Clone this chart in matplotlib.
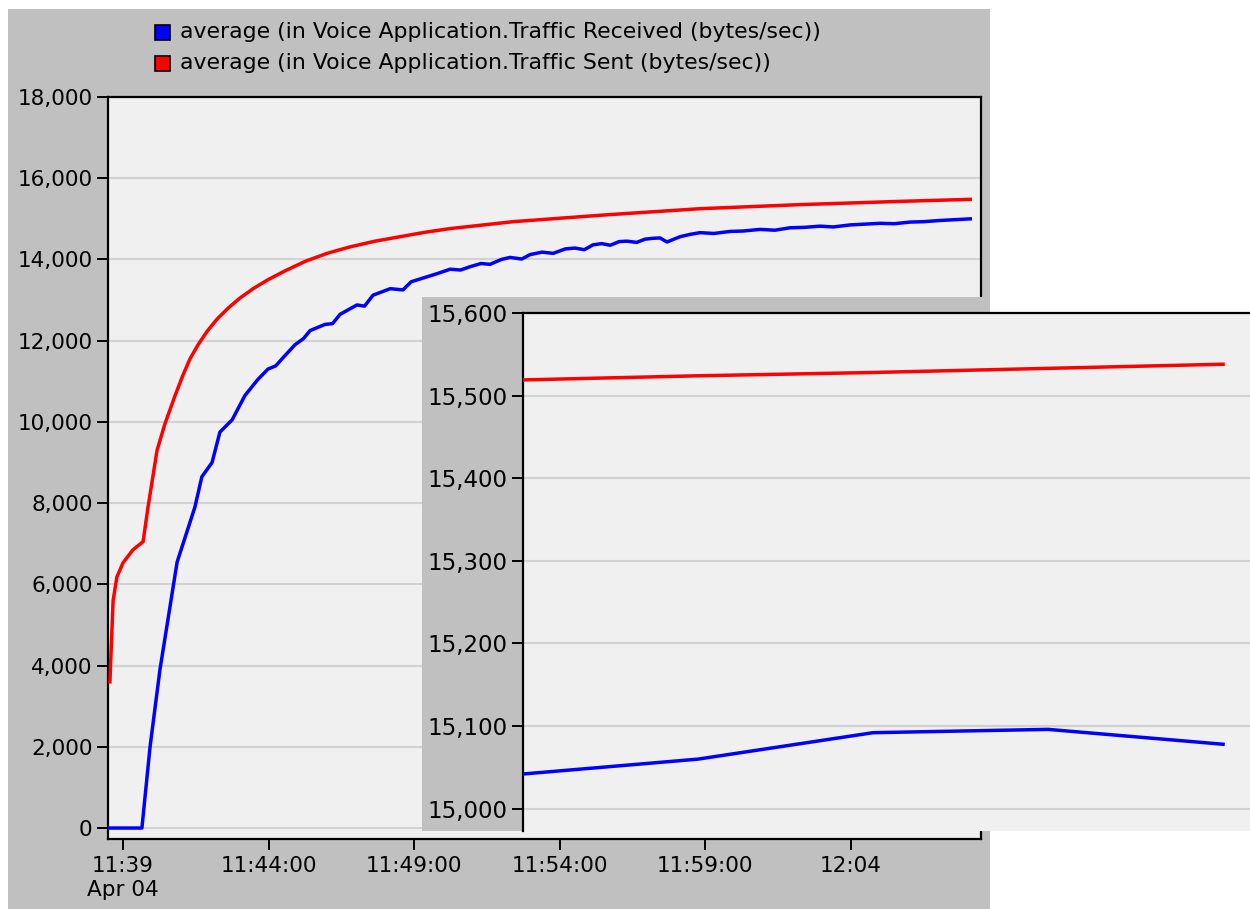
import matplotlib
matplotlib.use("Agg")
import matplotlib.pyplot as plt
from matplotlib.patches import Rectangle
from matplotlib.ticker import FuncFormatter

W, H = 1250, 909

# main chart: minutes after 11:39
sent_t = [-0.45, -0.34, -0.21, 0.0, 0.34, 0.69, 0.86, 1.17, 1.44, 1.79, 2.06, 2.30, 2.58,
          2.89, 3.23, 3.61, 4.02, 4.47, 4.98, 5.57, 6.25, 7.01, 7.80, 8.66, 9.52, 10.38,
          11.24, 13.40, 16.63, 19.83, 23.26, 26.70, 29.11]
sent = [3600, 5600, 6180, 6530, 6850, 7050, 7900, 9300, 9950, 10650, 11150, 11550, 11900,
        12230, 12530, 12800, 13050, 13280, 13500, 13720, 13950, 14150, 14310, 14450, 14560,
        14670, 14760, 14930, 15100, 15250, 15350, 15430, 15480]

recv_t = [-0.52, 0.65, 0.93, 1.27, 1.86, 2.47, 2.71, 3.06, 3.33, 3.75, 4.19, 4.64, 4.98,
          5.25, 5.46, 5.91, 6.2, 6.43, 6.94, 7.2, 7.46, 8.04, 8.3, 8.59, 9.18, 9.62, 9.9,
          10.21, 10.79, 11.24, 11.6, 11.92, 12.3, 12.61, 13.0, 13.3, 13.7, 13.99, 14.4,
          14.78, 15.2, 15.53, 15.85, 16.15, 16.45, 16.74, 17.05, 17.32, 17.65, 17.94, 18.2,
          18.45, 18.69, 19.14, 19.5, 19.83, 20.3, 20.86, 21.3, 21.89, 22.4, 22.92, 23.4,
          23.95, 24.4, 24.98, 25.5, 26.01, 26.5, 27.04, 27.5, 28.08, 28.6, 29.11]
recv = [0, 0, 2000, 3900, 6550, 7900, 8650, 9000, 9750, 10050, 10650, 11050, 11300,
        11380, 11550, 11900, 12050, 12250, 12400, 12420, 12650, 12880, 12850, 13120, 13280,
        13250, 13450, 13520, 13650, 13760, 13740, 13820, 13900, 13880, 14000, 14050, 14010,
        14120, 14180, 14150, 14260, 14280, 14240, 14360, 14390, 14350, 14440, 14450, 14420,
        14500, 14520, 14530, 14430, 14560, 14620, 14660, 14640, 14690, 14700, 14740, 14720,
        14780, 14790, 14820, 14800, 14850, 14870, 14890, 14880, 14920, 14930, 14960, 14980, 15000]

x_ticks = [0, 5, 10, 15, 20, 25]
x_labels = ["11:39\nApr 04", "11:44:00", "11:49:00", "11:54:00", "11:59:00", "12:04"]
y_ticks = list(range(0, 18001, 2000))

# zoomed inset
zoom_idx = [0, 1, 2, 3, 4]
zoom_sent = [15519, 15524, 15528, 15533, 15538]
zoom_recv = [15042, 15060, 15092, 15096, 15078]
zoom_ticks = [15000, 15100, 15200, 15300, 15400, 15500, 15600]

legend_labels = ["average (in Voice Application.Traffic Received (bytes/sec))",
                 "average (in Voice Application.Traffic Sent (bytes/sec))"]

PANEL = "#c0c0c0"
PLOT_BG = "#f0f0f0"
GRID = "#d2d2d2"
BLUE = "#0000ff"
RED = "#ff0000"

plt.rcParams["font.family"] = "DejaVu Sans"


def box(x0, y0, x1, y1):
    # pixel box (top-left origin) -> figure rect
    return [x0 / W, 1 - y1 / H, (x1 - x0) / W, (y1 - y0) / H]


def commas(v, _):
    return f"{int(round(v)):,}"


fig = plt.figure(figsize=(W / 100, H / 100), dpi=100, facecolor="white")

# main grey panel
fig.add_artist(Rectangle((8 / W, 0), 982 / W, 900 / H, transform=fig.transFigure,
                         facecolor=PANEL, edgecolor="none", zorder=-1))

ax = fig.add_axes(box(108, 97, 981, 839), zorder=0)
ax.set_facecolor(PLOT_BG)
ax.plot(recv_t, recv, color=BLUE, lw=2.5, solid_joinstyle="round", zorder=3)
ax.plot(sent_t, sent, color=RED, lw=2.5, solid_joinstyle="round", zorder=3)
ax.set_xlim(-0.515, 29.48)
ax.set_ylim(-270, 18000)
ax.set_xticks(x_ticks)
ax.set_xticklabels(x_labels, linespacing=1.3)
ax.set_yticks(y_ticks)
ax.yaxis.set_major_formatter(FuncFormatter(commas))
ax.grid(axis="y", color=GRID, lw=1.5)
ax.set_axisbelow(True)
for s in ax.spines.values():
    s.set_color("black")
    s.set_linewidth(1.6)
ax.tick_params(axis="y", length=8, width=1.4, labelsize=15.5, pad=3)
ax.tick_params(axis="x", length=8, width=1.4, labelsize=15.5, pad=4)

# legend drawn by hand above the plot
for i, (lab, col) in enumerate(zip(legend_labels, [BLUE, RED])):
    yc = 32 + 31 * i
    fig.add_artist(Rectangle((155 / W, 1 - (yc + 7.5) / H), 15 / W, 15 / H,
                             transform=fig.transFigure, facecolor=col,
                             edgecolor="black", lw=1.2, zorder=2))
    fig.text(180 / W, 1 - yc / H, lab, fontsize=15.8, va="center", ha="left")

# inset grey panel + zoom axes
fig.add_artist(Rectangle((422 / W, 1 - 831 / H), 567 / W, 534 / H,
                         transform=fig.transFigure, facecolor=PANEL,
                         edgecolor="none", zorder=1))

axi = fig.add_axes(box(523, 313, 1250, 831), zorder=2)
axi.set_facecolor(PLOT_BG)
axi.plot(zoom_idx, zoom_recv, color=BLUE, lw=2.5, zorder=3)
axi.plot(zoom_idx, zoom_sent, color=RED, lw=2.5, zorder=3)
axi.set_xlim(0, 4.154)
axi.set_ylim(14973, 15600)
axi.set_yticks(zoom_ticks)
axi.yaxis.set_major_formatter(FuncFormatter(commas))
axi.set_xticks([])
axi.grid(axis="y", color=GRID, lw=1.5)
axi.set_axisbelow(True)
axi.spines["right"].set_visible(False)
axi.spines["bottom"].set_visible(False)
axi.spines["left"].set_linewidth(1.6)
axi.spines["top"].set_linewidth(1.6)
axi.tick_params(axis="y", length=8, width=1.4, labelsize=16.5, pad=3)

fig.savefig("out.png", dpi=100, facecolor="white")
